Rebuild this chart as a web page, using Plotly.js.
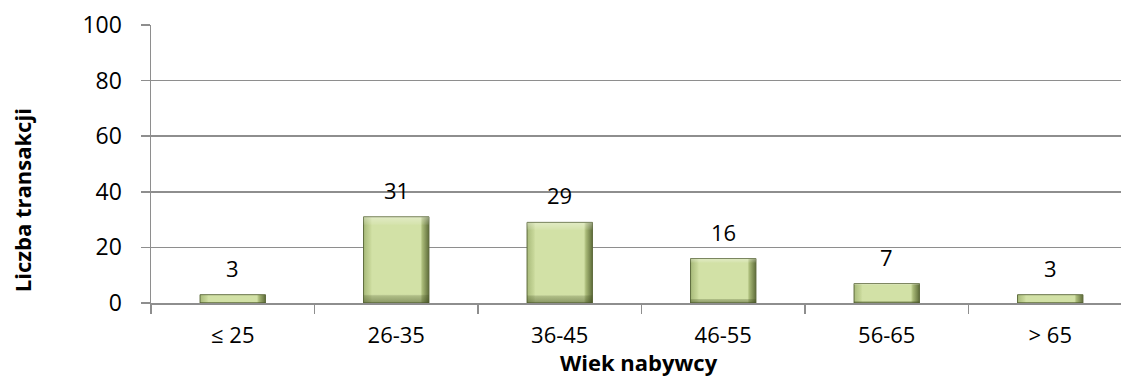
<!DOCTYPE html>
<html>
<head>
<meta charset="utf-8">
<script src="https://cdn.plot.ly/plotly-3.0.1.min.js"></script>
<style>
  html, body { margin: 0; padding: 0; background: #fff; overflow: hidden; }
  #chart { width: 1145px; height: 376px; }
</style>
</head>
<body>
<div id="chart"></div>
<script>
// Age groups of buyers and the number of transactions in each
const ageGroups = ['≤ 25', '26-35', '36-45', '46-55', '56-65', '> 65'];
const transactions = [3, 31, 29, 16, 7, 3];
const yTicks = [0, 20, 40, 60, 80, 100];

const FONT = 'Open Sans, Lato, sans-serif';
const GRID = '#8e8e8e';

const barTrace = {
  type: 'bar',
  x: ageGroups,
  y: transactions,
  marker: { color: '#cfdfa2', line: { color: '#5d6a3b', width: 1 } },
  hoverinfo: 'skip'
};

// value labels floating above each bar
const labels = ageGroups.map((g, i) => ({
  x: g, y: transactions[i], xref: 'x', yref: 'y',
  text: String(transactions[i]), showarrow: false,
  yanchor: 'bottom', yshift: 10,
  font: { family: FONT, size: 22, color: '#000' }
}));

// axis titles, placed as free text
const axisTitles = [
  {
    text: '<b>Wiek nabywcy</b>', showarrow: false,
    xref: 'paper', yref: 'paper', x: 0.497, y: 0, yshift: -59,
    xanchor: 'center', yanchor: 'middle',
    font: { family: FONT, size: 22, color: '#000' }
  },
  {
    text: '<b>Liczba transakcji</b>', showarrow: false, textangle: -90,
    xref: 'paper', yref: 'paper', x: 0, xshift: -129, y: 0.37,
    xanchor: 'center', yanchor: 'middle',
    font: { family: FONT, size: 22, color: '#000' }
  }
];

const layout = {
  width: 1145, height: 376,
  margin: { l: 151, r: 13, t: 25, b: 73 },
  paper_bgcolor: '#fff', plot_bgcolor: '#fff',
  bargap: 0.6,
  showlegend: false,
  font: { family: FONT, color: '#000' },
  xaxis: {
    type: 'category',
    tickson: 'boundaries',
    ticks: 'outside', ticklen: 9, tickwidth: 1.5, tickcolor: GRID,
    ticklabelstandoff: 12,
    showline: true, linecolor: GRID, linewidth: 1.5,
    showgrid: false,
    tickfont: { family: FONT, size: 22, color: '#000' }
  },
  yaxis: {
    range: [0, 100],
    tickvals: yTicks,
    ticks: 'outside', ticklen: 9, tickwidth: 1.5, tickcolor: GRID,
    ticklabelstandoff: 14,
    showline: true, linecolor: GRID, linewidth: 1.5,
    showgrid: true, gridcolor: GRID, gridwidth: 1.5,
    zeroline: false,
    tickfont: { family: FONT, size: 23, color: '#000' }
  },
  annotations: labels.concat(axisTitles)
};

Plotly.newPlot('chart', [barTrace], layout, { staticPlot: true, displayModeBar: false }).then(gd => {
  // give the bars a bevelled, shaded look
  const svgNS = 'http://www.w3.org/2000/svg';
  const svg = gd.querySelector('svg.main-svg');
  let defs = svg.querySelector('defs');
  if (!defs) { defs = document.createElementNS(svgNS, 'defs'); svg.insertBefore(defs, svg.firstChild); }

  function grad(id, x2, y2, stops) {
    const g = document.createElementNS(svgNS, 'linearGradient');
    g.setAttribute('id', id);
    g.setAttribute('x1', '0'); g.setAttribute('y1', '0');
    g.setAttribute('x2', x2); g.setAttribute('y2', y2);
    stops.forEach(([o, c, a]) => {
      const s = document.createElementNS(svgNS, 'stop');
      s.setAttribute('offset', o);
      s.setAttribute('stop-color', c);
      s.setAttribute('stop-opacity', a);
      g.appendChild(s);
    });
    defs.appendChild(g);
  }
  grad('barSide', '1', '0', [
    ['0', '#a8ba7a', 1], ['0.1', '#c6d698', 1], ['0.13', '#d2e1a6', 1],
    ['0.87', '#d2e1a6', 1], ['0.9', '#a9ba78', 1], ['1', '#5f6d3a', 1]
  ]);
  grad('barTopBottom', '0', '1', [
    ['0', '#ffffff', 0.35], ['0.08', '#ffffff', 0.1], ['0.1', '#ffffff', 0],
    ['0.9', '#000000', 0], ['0.92', '#3e4a1e', 0.25], ['1', '#2e3a12', 0.45]
  ]);

  gd.querySelectorAll('.bars .point path').forEach(p => {
    p.style.fill = 'url(#barSide)';
    const overlay = p.cloneNode(false);
    overlay.style.fill = 'url(#barTopBottom)';
    overlay.style.stroke = 'none';
    p.parentNode.appendChild(overlay);
  });
});
</script>
</body>
</html>
